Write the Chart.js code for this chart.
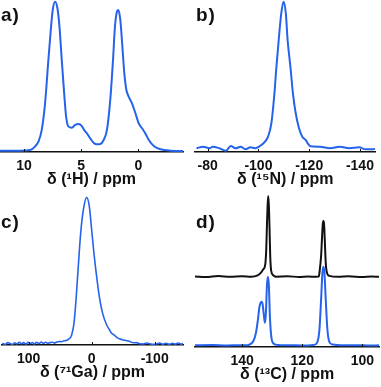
<!DOCTYPE html>
<html>
<head>
<meta charset="utf-8">
<script src="https://cdn.jsdelivr.net/npm/chart.js@4.4.1/dist/chart.umd.min.js"></script>
<style>
body{margin:0;background:#fff;width:381px;height:387px;overflow:hidden;position:relative;font-family:'Liberation Sans',Arial,sans-serif}
.panel{position:absolute}
.lab{position:absolute;font-weight:bold;font-size:19px;line-height:19px;color:#111;letter-spacing:1px}
</style>
</head>
<body>
<div class="panel" style="left:0;top:0;width:190px;height:188px"><canvas id="chartA"></canvas></div>
<div class="panel" style="left:190px;top:0;width:191px;height:188px"><canvas id="chartB"></canvas></div>
<div class="panel" style="left:0;top:192px;width:190px;height:189px"><canvas id="chartC"></canvas></div>
<div class="panel" style="left:190px;top:192px;width:191px;height:191px"><canvas id="chartD"></canvas></div>
<div class="lab" style="left:1px;top:5px">a)</div>
<div class="lab" style="left:196px;top:5px">b)</div>
<div class="lab" style="left:1px;top:212px">c)</div>
<div class="lab" style="left:196px;top:212px">d)</div>
<script>
// a) 1H
var aPpm = [12.1, 10.35, 9.47, 9.04, 8.74, 8.45, 8.16, 7.87, 7.66, 7.49, 7.28, 7.08, 6.90, 6.70, 6.49, 6.32, 6.11, 5.82, 5.53, 5.23, 4.94, 4.74, 4.50, 4.21, 3.92, 3.63, 3.33, 3.04, 2.75, 2.46, 2.22, 2.05, 1.87, 1.75, 1.58, 1.40, 1.23, 1.05, 0.85, 0.56, 0.26, -0.03, -0.32, -0.61, -0.91, -1.35, -1.93, -2.81, -3.98]
var aInt = [0.9, 0.9, 1.3, 3.6, 6.9, 14.7, 32.4, 61.3, 81.3, 94.7, 100.2, 95.8, 83.6, 61.3, 39.1, 23.6, 16.9, 16.2, 18.0, 18.7, 17.3, 14.7, 12.4, 9.1, 6.2, 5.1, 5.3, 8.0, 14.7, 34.7, 61.3, 83.6, 93.6, 94.7, 88.0, 70.2, 52.4, 41.3, 36.9, 32.4, 25.8, 19.1, 15.8, 12.4, 8.0, 4.0, 1.8, 0.9, 0.7]
var aTicks = [10, 5, 0]

// b) 15N
var bPpm = [-75.6, -78.2, -80.8, -82.0, -84.6, -87.2, -89.1, -91.0, -93.0, -94.9, -96.8, -98.7, -100.6, -102.6, -103.8, -105.1, -106.2, -107.1, -108.0, -109.0, -109.9, -110.8, -111.5, -112.6, -113.6, -114.7, -116.0, -117.3, -118.6, -119.9, -120.5, -124.3, -128.2, -132.0, -135.9, -139.7, -142.3, -144.9, -146.0]
var bInt = [2.5, 3.5, 2.5, 3.5, 2.5, 0.9, 4.0, 2.5, 3.5, 1.8, 3.1, 2.5, 4.0, 6.9, 10.2, 19.1, 36.9, 56.9, 74.7, 92.4, 100.2, 92.4, 74.7, 56.9, 39.1, 25.8, 15.8, 10.2, 8.0, 4.7, 3.8, 3.5, 2.5, 3.5, 2.5, 3.1, 1.8, 1.8, 2.0]
var bTicks = [-80, -100, -120, -140]

// c) 71Ga
var cPpm = [142, 137, 133, 129.7, 126, 122, 119, 115, 111, 108.5, 104, 101, 97.9, 94, 91, 87.3, 84, 80, 76.8, 73, 70, 66.2, 62, 59, 55.6, 51, 48, 45, 41, 37.1, 31.8, 28.1, 24.9, 21.3, 17.5, 13.3, 8.0, 3.7, 0, -3.6, -7.9, -12.1, -17.4, -23.8, -28, -31.7, -36, -39.7, -45, -50.2, -55, -60.8, -66, -71.4, -76, -81.9, -87, -92.5, -97, -103.1, -108, -113, -118, -123, -128, -133, -138, -142, -145]
var cInt = [1.2, 0.5, 1.6, 1.1, 0.4, 1.5, 0.7, 1.8, 0.8, 1.6, 0.6, 1.9, 0.9, 1.7, 0.6, 1.8, 1.0, 2.0, 1.1, 1.9, 1.2, 1.6, 1.9, 1.3, 2.0, 2.4, 2.2, 2.7, 3.0, 3.8, 6.8, 14.6, 30.4, 52.9, 75.5, 91.2, 99.8, 93.5, 77.7, 61.9, 46.2, 32.7, 21.4, 13.5, 10.5, 7.9, 6.6, 5.2, 4.0, 3.4, 3.0, 2.3, 1.5, 1.6, 0.8, 0.7, 1.4, 0.9, 0.4, 0.7, 1.3, 0.5, 1.2, 0.4, 1.1, 0.6, 1.4, 0.5, 1.0]
var cTicks = [100, 0, -100]

// d) 13C, two traces
var dBlackPpm = [155.7, 152, 148, 144, 140, 137, 134.84, 133.74, 132.97, 132.31, 131.98, 131.76, 131.54, 131.32, 131.10, 130.88, 130.66, 130.33, 129.67, 128.79, 125, 121, 118, 115.5, 114.49, 114.27, 113.72, 113.39, 113.17, 112.95, 112.73, 112.51, 112.18, 111.74, 110.97, 108, 104.6, 100, 97, 94.4]
var dBlackInt = [47.0, 46.6, 47.3, 46.8, 47.2, 46.9, 47.8, 49.6, 51.8, 55.1, 65.1, 80.7, 94.0, 100.7, 94.0, 78.5, 60.7, 50.7, 47.8, 46.9, 47.1, 46.7, 47.0, 46.8, 46.9, 49.6, 60.7, 74.0, 81.8, 84.0, 81.8, 71.8, 56.2, 49.1, 47.4, 46.8, 47.1, 46.7, 47.0, 46.8]
var dBluePpm = [155.7, 150, 145, 141, 139, 137.59, 136.27, 135.39, 134.73, 134.29, 133.85, 133.52, 133.19, 132.75, 132.42, 132.09, 131.76, 131.43, 131.10, 130.77, 130.33, 129.67, 128.24, 124, 120, 116.14, 115.04, 114.27, 113.72, 113.28, 112.95, 112.62, 112.18, 111.63, 110.97, 109.87, 106, 102, 98, 94.4]
var dBlueInt = [1.1, 1.3, 1.0, 1.2, 1.1, 1.6, 4.0, 9.6, 18.5, 26.2, 29.6, 30.2, 28.5, 20.7, 16.2, 22.9, 40.7, 46.9, 40.7, 20.7, 7.4, 2.5, 1.4, 1.2, 1.0, 1.4, 2.9, 11.8, 31.8, 49.6, 53.4, 49.6, 31.8, 11.8, 3.4, 1.6, 1.1, 1.2, 1.0, 1.1]
var dTicks = [140, 120, 100]

var BLUE = '#2563eb'
var FONT = "'Liberation Sans', 'DejaVu Sans', Arial, sans-serif"

Chart.defaults.font.family = FONT
Chart.defaults.color = '#111'
Chart.defaults.animation = false

function pts(xs, ys){
    return xs.map(function(x, i){ return {x: x, y: ys[i]} })
}

// small tick marks pointing up into the plot
var innerTicks = {
    id: 'innerTicks',
    afterDraw: function(chart){
        var s = chart.scales.x, ctx = chart.ctx
        ctx.save()
        ctx.strokeStyle = '#111'
        ctx.lineWidth = 1
        s.ticks.forEach(function(t){
            var x = Math.round(s.getPixelForValue(t.value)) + 0.5
            ctx.beginPath()
            ctx.moveTo(x, s.top)
            ctx.lineTo(x, s.top - 3)
            ctx.stroke()
        })
        ctx.restore()
    }
}

function panel(id, datasets, ticks, xmin, xmax, ymax, pad, title){
    return new Chart(document.getElementById(id), {
        type: 'line',
        data: {datasets: datasets},
        plugins: [innerTicks],
        options: {
            responsive: true,
            maintainAspectRatio: false,
            layout: {padding: pad},
            plugins: {legend: {display: false}, tooltip: {enabled: false}},
            elements: {point: {radius: 0}, line: {borderWidth: 2, cubicInterpolationMode: 'monotone'}},
            scales: {
                x: {
                    type: 'linear',
                    reverse: true,
                    min: xmin,
                    max: xmax,
                    afterBuildTicks: function(scale){
                        scale.ticks = ticks.map(function(v){ return {value: v} })
                    },
                    grid: {display: false, drawTicks: false, tickLength: 0},
                    border: {display: true, color: '#111', width: 1.5},
                    ticks: {
                        padding: 7,
                        maxRotation: 0,
                        autoSkip: false,
                        font: {size: 14, weight: 'bold', lineHeight: 1},
                        callback: function(v){ return String(v) }
                    },
                    title: {
                        display: true,
                        text: title,
                        // tick padding is counted twice by the layout, so pull the title back up
                        padding: {top: -8, bottom: 0},
                        font: {size: 16, weight: 'bold', lineHeight: 1}
                    }
                },
                y: {display: false, min: 0, max: ymax}
            }
        }
    })
}

panel('chartA', [{data: pts(aPpm, aInt), borderColor: BLUE}], aTicks,
    -3.9, 12.1, 101.3, {left: 0, right: 7, top: 0, bottom: 0}, 'δ (¹H) / ppm')

panel('chartB', [{data: pts(bPpm, bInt), borderColor: BLUE}], bTicks,
    -146.15, -75, 101.3, {left: 5, right: 1, top: 0, bottom: 0}, 'δ (¹⁵N) / ppm')

panel('chartC', [{data: pts(cPpm, cInt), borderColor: BLUE, borderWidth: 1.6}], cTicks,
    -145, 142.4, 103.4, {left: 2, right: 7, top: 0, bottom: 0}, 'δ (⁷¹Ga) / ppm')

panel('chartD', [
        {data: pts(dBlackPpm, dBlackInt), borderColor: '#111'},
        {data: pts(dBluePpm, dBlueInt), borderColor: BLUE}
    ], dTicks,
    94.4, 155.7, 103.3, {left: 5, right: 0, top: 0, bottom: 0}, 'δ (¹³C) / ppm')
</script>
</body>
</html>
